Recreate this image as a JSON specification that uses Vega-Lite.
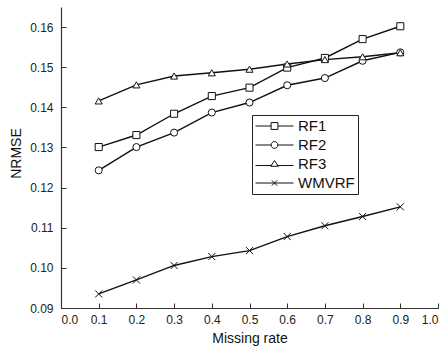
{
  "$schema": "https://vega.github.io/schema/vega-lite/v6.json",
  "autosize": "none",
  "padding": {"left": 61, "top": 7, "right": 8, "bottom": 38},
  "width": 377,
  "height": 301,
  "background": "white",
  "config": {
    "view": {"stroke": null},
    "font": "Liberation Sans",
    "axis": {
      "domainColor": "#333",
      "domainWidth": 1.2,
      "tickColor": "#333",
      "tickWidth": 1,
      "tickSize": -5,
      "grid": false,
      "labelFont": "Liberation Sans",
      "labelFontSize": 12,
      "labelColor": "#222",
      "titleFont": "Liberation Sans",
      "titleFontSize": 14,
      "titleFontWeight": "normal",
      "titleColor": "#111"
    }
  },
  "data": {
    "values": [
      {"rate": 0.1, "series": "RF1", "nrmse": 0.1301},
      {"rate": 0.2, "series": "RF1", "nrmse": 0.1331},
      {"rate": 0.3, "series": "RF1", "nrmse": 0.1384},
      {"rate": 0.4, "series": "RF1", "nrmse": 0.1428},
      {"rate": 0.5, "series": "RF1", "nrmse": 0.1449},
      {"rate": 0.6, "series": "RF1", "nrmse": 0.1499},
      {"rate": 0.7, "series": "RF1", "nrmse": 0.1523},
      {"rate": 0.8, "series": "RF1", "nrmse": 0.157},
      {"rate": 0.9, "series": "RF1", "nrmse": 0.1602},
      {"rate": 0.1, "series": "RF2", "nrmse": 0.1243},
      {"rate": 0.2, "series": "RF2", "nrmse": 0.1301},
      {"rate": 0.3, "series": "RF2", "nrmse": 0.1337},
      {"rate": 0.4, "series": "RF2", "nrmse": 0.1387},
      {"rate": 0.5, "series": "RF2", "nrmse": 0.1412},
      {"rate": 0.6, "series": "RF2", "nrmse": 0.1455},
      {"rate": 0.7, "series": "RF2", "nrmse": 0.1473},
      {"rate": 0.8, "series": "RF2", "nrmse": 0.1516},
      {"rate": 0.9, "series": "RF2", "nrmse": 0.1537},
      {"rate": 0.1, "series": "RF3", "nrmse": 0.1416},
      {"rate": 0.2, "series": "RF3", "nrmse": 0.1456},
      {"rate": 0.3, "series": "RF3", "nrmse": 0.1478},
      {"rate": 0.4, "series": "RF3", "nrmse": 0.1486},
      {"rate": 0.5, "series": "RF3", "nrmse": 0.1495},
      {"rate": 0.6, "series": "RF3", "nrmse": 0.1508},
      {"rate": 0.7, "series": "RF3", "nrmse": 0.1519},
      {"rate": 0.8, "series": "RF3", "nrmse": 0.1526},
      {"rate": 0.9, "series": "RF3", "nrmse": 0.1536},
      {"rate": 0.1, "series": "WMVRF", "nrmse": 0.0935},
      {"rate": 0.2, "series": "WMVRF", "nrmse": 0.097},
      {"rate": 0.3, "series": "WMVRF", "nrmse": 0.1006},
      {"rate": 0.4, "series": "WMVRF", "nrmse": 0.1028},
      {"rate": 0.5, "series": "WMVRF", "nrmse": 0.1043},
      {"rate": 0.6, "series": "WMVRF", "nrmse": 0.1078},
      {"rate": 0.7, "series": "WMVRF", "nrmse": 0.1105},
      {"rate": 0.8, "series": "WMVRF", "nrmse": 0.1128},
      {"rate": 0.9, "series": "WMVRF", "nrmse": 0.1152}
    ]
  },
  "encoding": {
    "x": {
      "field": "rate", "type": "quantitative",
      "scale": {"domain": [0, 1], "nice": false, "zero": false},
      "axis": {"title": "Missing rate", "values": [0, 0.1, 0.2, 0.3, 0.4, 0.5, 0.6, 0.7, 0.8, 0.9, 1.0], "format": ".1f", "labelPadding": 11, "titlePadding": 6}
    },
    "y": {
      "field": "nrmse", "type": "quantitative",
      "scale": {"domain": [0.09, 0.165], "nice": false, "zero": false},
      "axis": {"title": "NRMSE", "values": [0.09, 0.1, 0.11, 0.12, 0.13, 0.14, 0.15, 0.16], "format": ".2f", "labelPadding": 13, "titlePadding": 6, "titleY": 146}
    }
  },
  "layer": [
    {
      "mark": {"type": "line", "color": "#111", "strokeWidth": 1.4},
      "encoding": {"detail": {"field": "series"}}
    },
    {
      "mark": {"type": "point", "filled": false, "fill": "white", "fillOpacity": 1, "stroke": "#111", "strokeWidth": 1, "opacity": 1},
      "encoding": {
        "shape": {
          "field": "series", "type": "nominal",
          "scale": {"domain": ["RF1", "RF2", "RF3", "WMVRF"], "range": ["square", "circle", "triangle-up", "M-1,-1L1,1M-1,1L1,-1"]},
          "legend": null
        },
        "size": {"value": 50}
      }
    },
    {
      "mark": {"type": "point", "opacity": 0},
      "encoding": {
        "shape": {
          "field": "series", "type": "nominal",
          "scale": {"domain": ["RF1", "RF2", "RF3", "WMVRF"], "range": [
            "M-1,0H-0.18M0.18,0H1M-0.18,-0.18H0.18V0.18H-0.18Z",
            "M-1,0H-0.18M0.18,0H1M-0.18,0A0.18,0.18,0,1,0,0.18,0A0.18,0.18,0,1,0,-0.18,0Z",
            "M-1,0.08H-0.15M0.15,0.08H1M-0.2,0.12L0,-0.18L0.2,0.12Z",
            "M-1,0H1M-0.14,-0.14L0.14,0.14M-0.14,0.14L0.14,-0.14"
          ]},
          "legend": {
            "title": null,
            "orient": "none",
            "legendX": 191,
            "legendY": 108,
            "padding": 3,
            "strokeColor": "#222",
            "symbolSize": 1444,
            "symbolOpacity": 1,
            "symbolFillColor": "white",
            "symbolStrokeColor": "#111",
            "symbolStrokeWidth": 1,
            "clipHeight": 16,
            "rowPadding": 3,
            "labelFont": "Liberation Sans",
            "labelFontSize": 15,
            "labelColor": "#111",
            "labelOffset": 4
          }
        },
        "size": {"value": 1444}
      }
    }
  ],
  "resolve": {"scale": {"shape": "independent"}, "legend": {"shape": "independent"}}
}
